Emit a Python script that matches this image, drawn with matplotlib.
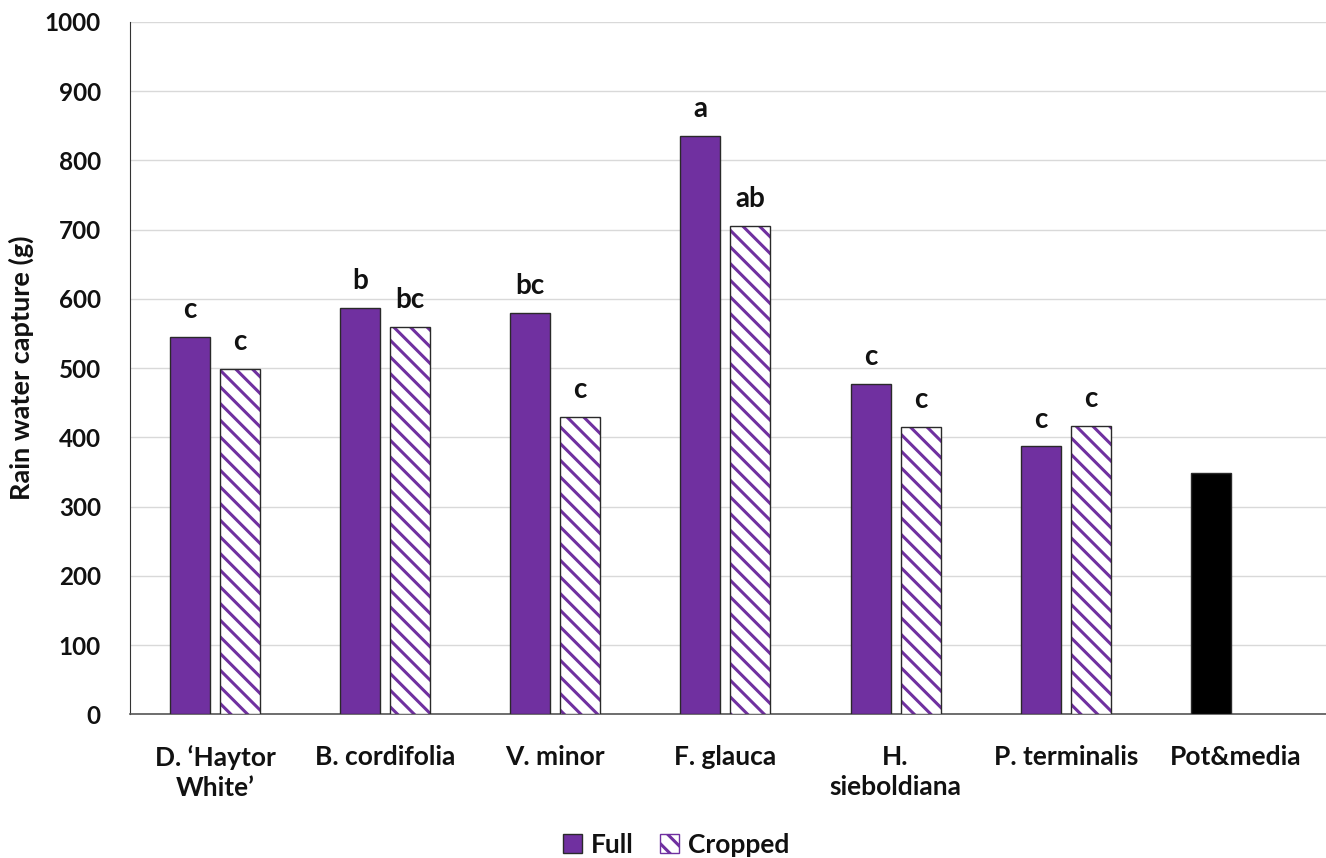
import matplotlib
matplotlib.use("Agg")
import matplotlib.pyplot as plt
from matplotlib.patches import Patch
import numpy as np

plt.rcParams['font.family'] = ['Lato', 'DejaVu Sans']
plt.rcParams['hatch.linewidth'] = 2.2

# Data
species = ["D. \u2018Haytor\nWhite\u2019", "B. cordifolia", "V. minor", "F. glauca",
           "H.\nsieboldiana", "P. terminalis", "Pot&media"]
full = [545, 587, 580, 835, 477, 387]
cropped = [499, 560, 430, 705, 415, 417]
pot_media = 348
full_letters = ["c", "b", "bc", "a", "c", "c"]
cropped_letters = ["c", "bc", "c", "ab", "c", "c"]

purple = "#7030A0"
edge = "#2a2a2a"
text_col = "#111111"

fig = plt.figure(figsize=(13.26, 8.58), dpi=100)
ax = fig.add_axes([0.098, 0.1673, 0.902, 0.8071])

x = np.arange(len(species))
w = 0.235
off = 0.147
n = len(full)

ax.bar(x[:n] - off, full, width=w, color=purple, edgecolor=edge, linewidth=1.0, zorder=3)
ax.bar(x[:n] + off, cropped, width=w, color="white", edgecolor=purple, hatch="\\\\",
       linewidth=0, zorder=3)
ax.bar(x[:n] + off, cropped, width=w, color="none", edgecolor=edge, linewidth=1.0, zorder=4)
ax.bar(x[n] - off, pot_media, width=w, color="black", edgecolor=edge, linewidth=1.0, zorder=3)

for xi, v, t in zip(x[:n] - off, full, full_letters):
    ax.annotate(t, (xi, v), xytext=(0, 10), textcoords="offset points", ha="center",
                va="bottom", fontsize=20, fontweight="bold", color=text_col)
for xi, v, t in zip(x[:n] + off, cropped, cropped_letters):
    ax.annotate(t, (xi, v), xytext=(0, 10), textcoords="offset points", ha="center",
                va="bottom", fontsize=20, fontweight="bold", color=text_col)

ax.set_xlim(-0.5, 6.53)
ax.set_ylim(0, 1000)
ax.set_yticks(np.arange(0, 1001, 100))
ax.set_xticks(x)
ax.set_xticklabels(species, fontsize=19, fontweight="bold", color=text_col,
                   linespacing=1.3)
for lbl in ax.get_yticklabels():
    lbl.set_fontsize(17.5)
    lbl.set_fontweight("bold")
    lbl.set_color(text_col)
ax.tick_params(axis="x", length=0, pad=22)
ax.tick_params(axis="y", length=0, pad=21)
ax.grid(axis="y", color="#d9d9d9", linewidth=1.0, zorder=0)
ax.set_axisbelow(True)
for s in ["top", "right"]:
    ax.spines[s].set_visible(False)
ax.spines["left"].set_color("#333333")
ax.spines["bottom"].set_color("#555555")
ax.spines["bottom"].set_linewidth(1.2)

ax.set_ylabel("Rain water capture (g)", fontsize=19.5, fontweight="bold", labelpad=8,
              color=text_col)

handles = [Patch(facecolor=purple, edgecolor=edge, linewidth=1.0),
           Patch(facecolor="white", edgecolor=purple, hatch="\\\\", linewidth=1.0)]
leg = fig.legend(handles, ["Full", "Cropped"], loc="lower center",
                 bbox_to_anchor=(0.51, -0.026), ncol=2, frameon=False,
                 prop={"size": 19, "weight": "bold"}, handlelength=0.7,
                 handleheight=0.7, handletextpad=0.35, columnspacing=1.0)
for t in leg.get_texts():
    t.set_color(text_col)

fig.savefig("out.png", dpi=100)
